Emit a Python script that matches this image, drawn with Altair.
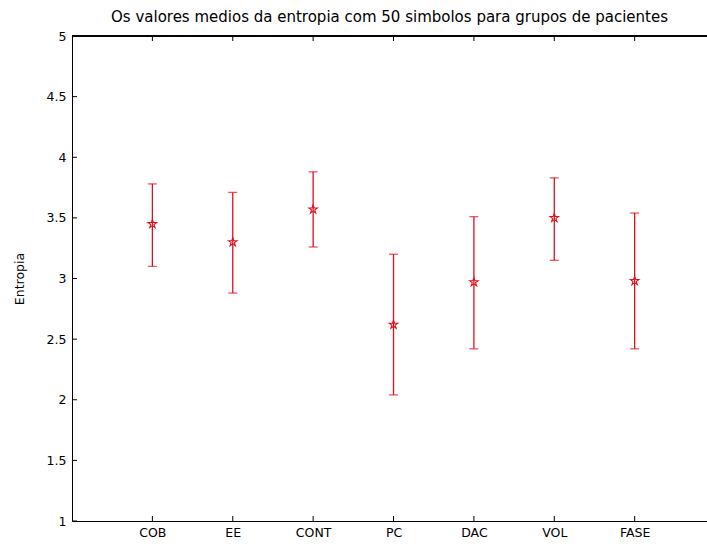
import math
import altair as alt
import pandas as pd

# ---- data ----
groups = ["COB", "EE", "CONT", "PC", "DAC", "VOL", "FASE"]
positions = [1, 2, 3, 4, 5, 6, 7]
means = [3.45, 3.30, 3.57, 2.62, 2.97, 3.50, 2.98]
lower = [3.10, 2.88, 3.26, 2.04, 2.42, 3.15, 2.42]
upper = [3.78, 3.71, 3.88, 3.20, 3.51, 3.83, 3.54]
y_ticks = [1, 1.5, 2, 2.5, 3, 3.5, 4, 4.5, 5]

title_text = "Os valores medios da entropia com 50 simbolos para grupos de pacientes"
y_title = "Entropia"

W, H = 635, 485
RED = "#e0101c"
FONT = "DejaVu Sans"

df = pd.DataFrame({"pos": positions, "group": groups, "mean": means,
                   "lo": lower, "hi": upper})
ydf = pd.DataFrame({"v": y_ticks})
xdf = pd.DataFrame({"pos": positions})

# pentagram symbol path
pts = []
for i in range(10):
    r = 1.0 if i % 2 == 0 else 0.382
    a = math.radians(-90 + 36 * i)
    pts.append((r * math.cos(a), r * math.sin(a)))
star = "M" + " L".join(f"{x:.3f},{y:.3f}" for x, y in pts) + " Z"

label_expr = "[" + ",".join(f"'{g}'" for g in groups) + "][datum.value-1]"

xscale = alt.Scale(domain=[0, 7.9], nice=False, zero=False)
yscale = alt.Scale(domain=[1, 5], nice=False, zero=False)

x_axis = alt.Axis(values=positions, labelExpr=label_expr, ticks=False,
                  domain=True, domainColor="black", grid=False, title=None,
                  labelFont=FONT, labelFontSize=12.5, labelColor="black",
                  labelPadding=5)
y_axis = alt.Axis(values=y_ticks, format="~g", ticks=False, domain=True,
                  domainColor="black", grid=False, title=y_title,
                  labelFont=FONT, labelFontSize=12.5, labelColor="black",
                  labelPadding=6, titleFont=FONT, titleFontSize=12.5,
                  titleFontWeight="normal", titleColor="black", titlePadding=20)


def X(field):
    return alt.X(field, type="quantitative", scale=xscale, axis=x_axis)


def Y(field):
    return alt.Y(field, type="quantitative", scale=yscale, axis=y_axis)


base = alt.Chart(df)

bars = base.mark_rule(color=RED, strokeWidth=1.3).encode(
    x=X("pos"), y=Y("lo"), y2="hi:Q")
cap_lo = base.mark_tick(color=RED, orient="horizontal", size=9, thickness=1.3).encode(
    x=X("pos"), y=Y("lo"))
cap_hi = base.mark_tick(color=RED, orient="horizontal", size=9, thickness=1.3).encode(
    x=X("pos"), y=Y("hi"))
stars = base.mark_point(shape=star, size=81, filled=False, color=RED,
                        strokeWidth=1.1, opacity=1).encode(
    x=X("pos"), y=Y("mean"))

# box top line and inward ticks
top_line = alt.Chart(xdf).mark_rule(color="black", strokeWidth=1).encode(
    x=alt.value(0), x2=alt.value(W), y=alt.value(0))
left_ticks = alt.Chart(ydf).mark_rule(color="black", strokeWidth=1).encode(
    y=Y("v"), x=alt.value(0), x2=alt.value(5))
top_ticks = alt.Chart(xdf).mark_rule(color="black", strokeWidth=1).encode(
    x=X("pos"), y=alt.value(0), y2=alt.value(5))
bot_ticks = alt.Chart(xdf).mark_rule(color="black", strokeWidth=1).encode(
    x=X("pos"), y=alt.value(H), y2=alt.value(H - 5))

chart = alt.layer(
    bars, cap_lo, cap_hi, stars, top_line, left_ticks, top_ticks, bot_ticks
).properties(
    width=W, height=H,
    title=alt.TitleParams(title_text, font=FONT, fontSize=15,
                          fontWeight="normal", color="black",
                          anchor="middle", offset=5),
    padding={"left": 72, "top": 36, "right": 0, "bottom": 26},
    autosize=alt.AutoSizeParams(type="none"),
).configure_view(stroke=None).configure(background="white")

chart.save("out.html", embed_options={"renderer": "svg", "actions": False})
